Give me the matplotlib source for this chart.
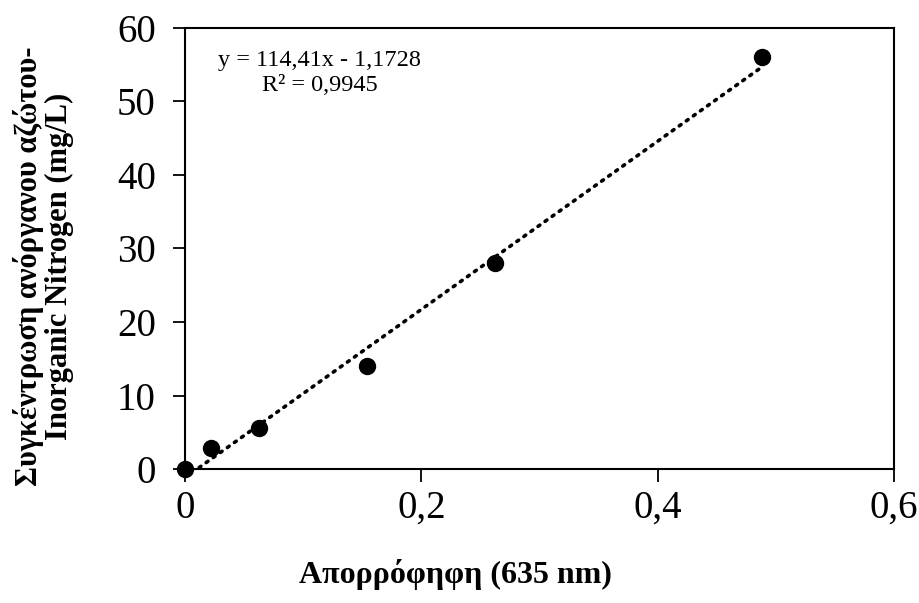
import matplotlib.pyplot as plt
import numpy as np

plt.rcParams['font.family'] = ['Liberation Serif', 'DejaVu Serif']

# Calibration data: absorbance vs inorganic nitrogen concentration
absorbance = [0.0, 0.022, 0.063, 0.154, 0.262, 0.488]
concentration = [0.0, 2.8, 5.6, 14.0, 28.0, 56.0]
slope = 114.41
intercept = -1.1728
r_squared = 0.9945
x_ticks = [0, 0.2, 0.4, 0.6]
x_tick_labels = ['0', '0,2', '0,4', '0,6']
y_ticks = [0, 10, 20, 30, 40, 50, 60]

fig = plt.figure(figsize=(9.19, 6.03), dpi=100)
ax = fig.add_axes([0.2013, 0.2222, 0.7715, 0.7314])

# linear trendline across the data range
xs = np.array([min(absorbance), max(absorbance)])
ax.plot(xs, slope * xs + intercept, color='black', linestyle=(0, (0.6, 1.8)),
        linewidth=2.6, dash_capstyle='round', zorder=2)

ax.plot(absorbance, concentration, 'o', color='black', markersize=11.5,
        clip_on=False, zorder=3)

ax.set_xlim(0, 0.6)
ax.set_ylim(0, 60)
ax.set_xticks(x_ticks)
ax.set_xticklabels(x_tick_labels)
ax.set_yticks(y_ticks)
ax.tick_params(axis='both', direction='out', length=9, width=1.3,
               labelsize=28, colors='black')
ax.tick_params(axis='y', pad=12)
ax.tick_params(axis='x', pad=6)
for s in ax.spines.values():
    s.set_linewidth(1.5)

eq_text = 'y = {:.2f}x - {:.4f}'.format(slope, -intercept).replace('.', ',')
r2_text = 'R² = {:.4f}'.format(r_squared).replace('.', ',')
ax.text(0.046, 0.927, eq_text, transform=ax.transAxes, fontsize=17.5,
        ha='left', va='center')
ax.text(0.108, 0.87, r2_text, transform=ax.transAxes, fontsize=17.5,
        ha='left', va='center')

fig.text(0.496, 0.022, 'Απορρόφηφη (635 nm)', fontsize=23, fontweight='bold',
         ha='center', va='bottom')
fig.text(0.047, 0.559, 'Συγκέντρωση ανόργανου αζώτου-\nInorganic Nitrogen (mg/L)',
         fontsize=22, fontweight='bold', rotation=90, ha='center', va='center',
         multialignment='center', linespacing=1.05)

fig.savefig('out.png', dpi=100)
